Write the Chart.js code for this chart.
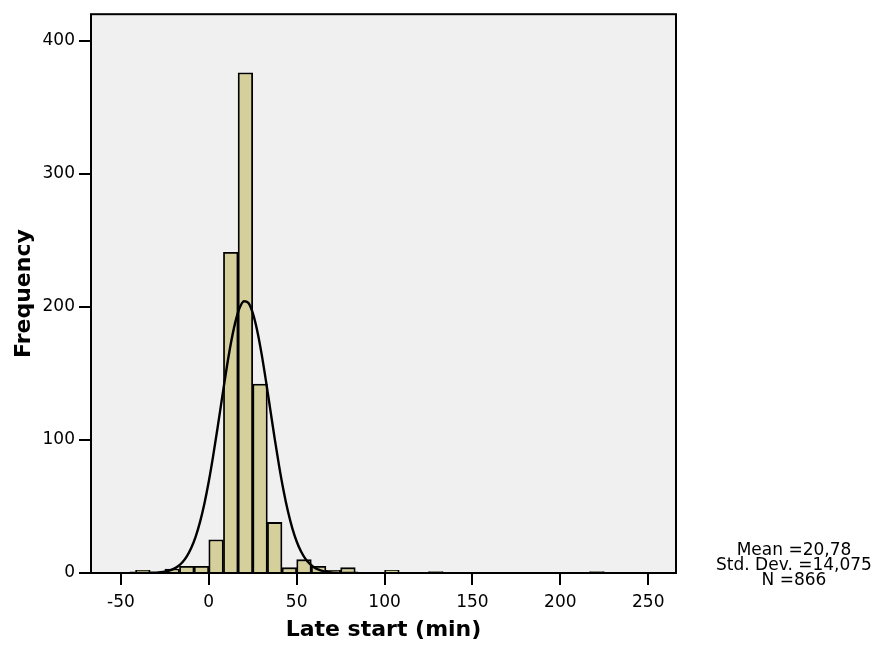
<!DOCTYPE html>
<html>
<head>
<meta charset="utf-8">
<script src="https://cdn.jsdelivr.net/npm/chart.js@4.4.0/dist/chart.umd.min.js"></script>
<style>
  html, body { margin: 0; padding: 0; background: #ffffff; }
  #wrap { width: 874px; height: 651px; position: relative; }
</style>
</head>
<body>
<div id="wrap"><canvas id="c"></canvas></div>
<script>
// ---- Data ----
const binWidth = 8.3333;
const binStart = [-41.667, -25, -16.667, -8.333, 0, 8.333, 16.667, 25, 33.333, 41.667, 50, 58.333, 66.667, 75, 100, 125, 216.667];
const counts   = [2, 3, 5, 5, 25, 241, 376, 142, 38, 4, 10, 5, 2, 4, 2, 1, 1];

// normal curve as drawn (values tabulated for Mean 20.78, SD 14.075, N 866)
const curveX = [-45, -42.5, -40, -37.5, -35, -32.5, -30, -27.5, -25, -22.5, -20, -17.5, -15, -12.5, -10, -7.5, -5, -2.5,
                0, 2.5, 5, 7.5, 10, 12.5, 15, 17.5, 20, 22.5, 25, 27.5, 30, 32.5, 35, 37.5, 40, 42.5, 45, 47.5,
                50, 52.5, 55, 57.5, 60, 62.5, 65, 67.5, 70, 72.5, 75, 77.5, 80, 82.5, 85];
const curveY = [0.00, 0.01, 0.02, 0.04, 0.08, 0.16, 0.30, 0.57, 1.03, 1.81, 3.08, 5.07, 8.08, 12.50, 18.72, 27.18, 38.22, 52.09,
                68.78, 88.01, 109.11, 131.07, 152.56, 172.05, 188.01, 199.07, 204.24, 203.03, 195.56, 182.52, 165.05, 144.62, 122.79, 101.01, 80.52, 62.19, 46.53, 33.74,
                23.71, 16.14, 10.65, 6.81, 4.21, 2.53, 1.47, 0.83, 0.45, 0.24, 0.12, 0.06, 0.03, 0.01, 0.00];

const xTicks = [-50, 0, 50, 100, 150, 200, 250];
const yTicks = [0, 100, 200, 300, 400];
const xTitle = 'Late start (min)';
const yTitle = 'Frequency';
const statsLines = ['Mean =20,78', 'Std. Dev. =14,075', 'N =866'];

// ---- Build datasets ----
const barData = binStart.map((s, i) => ({ x: s + binWidth / 2, y: counts[i] }));
const curveData = curveX.map((x, i) => ({ x: x, y: curveY[i] }));

Chart.defaults.font.family = 'DejaVu Sans';
Chart.defaults.color = '#000';

const framePlugin = {
  id: 'frame',
  beforeDatasetsDraw(chart) {
    const { ctx, chartArea: a } = chart;
    ctx.save();
    ctx.fillStyle = '#F0F0F0';
    ctx.fillRect(a.left, a.top, a.right - a.left, a.bottom - a.top);
    ctx.restore();
  },
  afterDatasetsDraw(chart) {
    const { ctx, chartArea: a } = chart;
    ctx.save();
    ctx.strokeStyle = '#000';
    ctx.lineWidth = 2;
    ctx.strokeRect(a.left, a.top, a.right - a.left, a.bottom - a.top);
    ctx.restore();
  },
  afterDraw(chart) {
    const { ctx } = chart;
    ctx.save();
    ctx.fillStyle = '#000';
    ctx.font = '17px "DejaVu Sans"';
    ctx.textAlign = 'center';
    ctx.textBaseline = 'alphabetic';
    statsLines.forEach((t, i) => ctx.fillText(t, 794, 555 + i * 15));
    ctx.restore();
  }
};

new Chart(document.getElementById('c'), {
  type: 'bar',
  data: {
    datasets: [
      {
        type: 'line',
        data: curveData,
        borderColor: '#000',
        borderWidth: 2.4,
        pointRadius: 0,
        fill: false,
        cubicInterpolationMode: 'monotone',
        order: 0
      },
      {
        type: 'bar',
        data: barData,
        backgroundColor: '#D4CF9B',
        borderColor: '#000',
        borderWidth: 1.8,
        barPercentage: 1,
        categoryPercentage: 1,
        order: 1
      }
    ]
  },
  options: {
    responsive: true,
    maintainAspectRatio: false,
    animation: false,
    layout: { padding: { top: 14, right: 198, bottom: 0, left: 0 } },
    plugins: { legend: { display: false }, tooltip: { enabled: false } },
    scales: {
      x: {
        type: 'linear',
        offset: false,
        min: -67,
        max: 265.8,
        afterBuildTicks: s => { s.ticks = xTicks.map(v => ({ value: v })); },
        afterFit: s => { s.height = 78; },
        grid: { display: true, offset: false, drawOnChartArea: false, drawTicks: true, tickLength: 12, color: '#000', lineWidth: 2 },
        border: { display: false },
        ticks: { color: '#000', font: { size: 17 }, padding: 7, maxRotation: 0, autoSkip: false, callback: v => String(v) },
        title: { display: true, text: xTitle, color: '#000', font: { size: 22, weight: 'bold' }, padding: { top: 0, bottom: 8 } }
      },
      y: {
        type: 'linear',
        min: 0,
        max: 420,
        afterBuildTicks: s => { s.ticks = yTicks.map(v => ({ value: v })); },
        afterFit: s => { s.width = 91; },
        grid: { display: true, drawOnChartArea: false, drawTicks: true, tickLength: 12, color: '#000', lineWidth: 2 },
        border: { display: false },
        ticks: { color: '#000', font: { size: 17 }, padding: 4, autoSkip: false, callback: v => String(v) },
        title: { display: true, text: yTitle, color: '#000', font: { size: 22, weight: 'bold' }, padding: { top: 11, bottom: 0 } }
      }
    }
  },
  plugins: [framePlugin]
});
</script>
</body>
</html>
